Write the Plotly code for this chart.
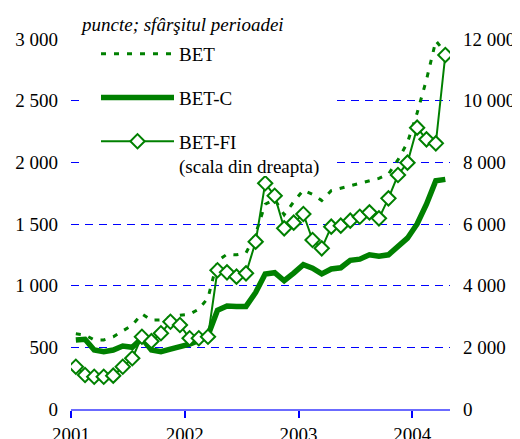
import pandas as pd
import plotly.graph_objects as go

# ---- data (monthly, end of period) ----
months = pd.period_range("2001-01", "2004-04", freq="M")
bet = [610, 600, 560, 560, 585, 630, 680, 772, 720, 722, 745, 760,
       768, 810, 900, 1200, 1255, 1250, 1265, 1420, 1660, 1700, 1575, 1680,
       1775, 1740, 1690, 1770, 1790, 1810, 1830, 1850, 1870, 1905, 2020, 2160,
       2400, 2670, 2985, 2890]
bet_c = [559, 565, 478, 465, 478, 511, 500, 573, 478, 465, 486, 500,
         525, 555, 598, 800, 835, 832, 832, 945, 1095, 1105, 1040, 1102,
         1170, 1141, 1095, 1135, 1145, 1205, 1215, 1250, 1238, 1250, 1320, 1385,
         1500, 1660, 1850, 1862]
bet_fi = [1372, 1103, 1048, 1048, 1081, 1372, 1644, 2345, 2200, 2455, 2831, 2724,
          2293, 2293, 2345, 4500, 4432, 4292, 4400, 5427, 7320, 6918, 5860, 6043,
          6324, 5481, 5211, 5913, 5946, 6108, 6236, 6378, 6183, 6832, 7589, 7989,
          9124, 8746, 8616, 11481]

left_ticks = [0, 500, 1000, 1500, 2000, 2500, 3000]
left_labels = ["0", "500", "1 000", "1 500", "2 000", "2 500", "3 000"]
right_ticks = [0, 2000, 4000, 6000, 8000, 10000, 12000]
right_labels = ["0", "2 000", "4 000", "6 000", "8 000", "10 000", "12 000"]
year_ticks = ["2001-01-01", "2002-01-01", "2003-01-01", "2004-01-01"]
year_labels = ["2001", "2002", "2003", "2004"]

x = [p.start_time + (p.end_time - p.start_time) / 2 for p in months]

GREEN = "#008000"
BLUE = "#0000FF"
FONT = "Times New Roman, Liberation Serif, DejaVu Serif, serif"

# page offset of the plot div (browser body margin) is 8px
W, H = 512, 431
L, T, PW, PH = 63, 31, 379, 370


def px(xp):
    return (xp - 8 - L) / PW


def py(yp):
    return 1 - (yp - 8 - T) / PH


fig = go.Figure()
fig.add_trace(go.Scatter(x=x, y=bet, name="BET", mode="lines", legendgroup="a",
                         line=dict(color=GREEN, width=3, dash="5px,8px")))
fig.add_trace(go.Scatter(x=x, y=bet_c, name="BET-C", mode="lines", legendgroup="b",
                         line=dict(color=GREEN, width=5.5)))
fig.add_trace(go.Scatter(x=x, y=bet_fi, name="BET-FI<br>(scala din dreapta)", yaxis="y2",
                         mode="lines+markers", legendgroup="c",
                         line=dict(color=GREEN, width=2),
                         marker=dict(symbol="diamond", size=11, color="white",
                                     line=dict(color=GREEN, width=2))))

# white panel behind the legend (hides the gridlines there)
fig.add_shape(type="rect", xref="paper", yref="paper", layer="above",
              x0=px(79), x1=px(333), y0=py(176), y1=py(47),
              fillcolor="white", line=dict(width=0))

fig.add_annotation(text="<i>puncte; sfârşitul perioadei</i>", xref="paper", yref="paper",
                   x=px(78), y=py(25), xanchor="left", yanchor="middle",
                   showarrow=False, font=dict(size=19, color="black", family=FONT))

fig.update_layout(
    width=W, height=H,
    margin=dict(l=L, r=W - L - PW, t=T, b=H - T - PH, autoexpand=False),
    paper_bgcolor="white", plot_bgcolor="white",
    font=dict(family=FONT, size=19, color="black"),
    showlegend=True,
    legend=dict(x=px(96), y=py(35), xanchor="left", yanchor="top",
                bgcolor="rgba(0,0,0,0)", borderwidth=0, itemwidth=73, valign="top",
                tracegroupgap=16, font=dict(size=19, family=FONT)),
    xaxis=dict(type="date", range=["2001-01-01", "2004-05-01"], automargin=False,
               tickvals=year_ticks, ticktext=year_labels,
               showgrid=False, zeroline=False,
               showline=True, linecolor="#6b6bff", linewidth=2,
               ticks="outside", ticklen=7, tickwidth=1.5, tickcolor=BLUE,
               ticklabelstandoff=0),
    yaxis=dict(range=[0, 3000], tickvals=left_ticks, ticktext=left_labels, automargin=False,
               showgrid=True, gridcolor=BLUE, gridwidth=1, griddash="8px,6px",
               zeroline=False, showline=False, ticks="", ticklabelstandoff=12),
    yaxis2=dict(range=[0, 12000], tickvals=right_ticks, ticktext=right_labels,
                automargin=False,
                overlaying="y", side="right", showgrid=False, zeroline=False,
                showline=False, ticks="", ticklabelstandoff=12),
)

fig.write_html("out.html")
